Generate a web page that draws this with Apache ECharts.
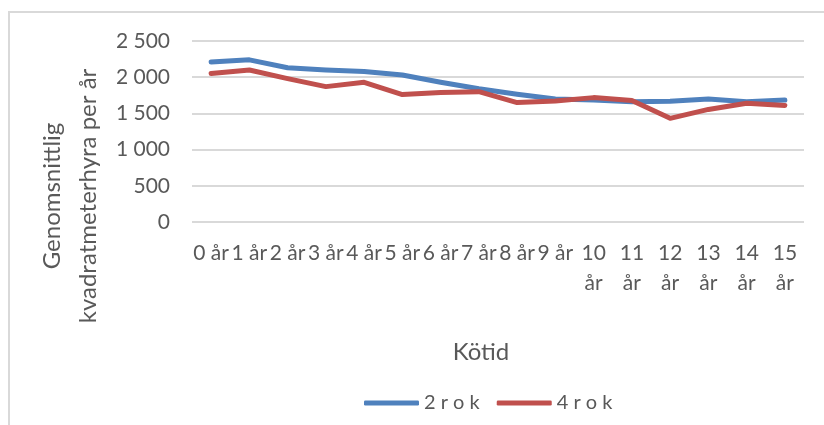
<!DOCTYPE html>
<html>
<head>
<meta charset="utf-8">
<script src="https://cdn.jsdelivr.net/npm/echarts@6/dist/echarts.min.js"></script>
<style>
  html, body { margin: 0; padding: 0; background: #fff; }
  #chart { width: 824px; height: 425px; }
</style>
</head>
<body>
<div id="chart"></div>
<script>
// kötid-kategorier
const categories = ['0 år', '1 år', '2 år', '3 år', '4 år', '5 år', '6 år', '7 år',
  '8 år', '9 år', '10 år', '11 år', '12 år', '13 år', '14 år', '15 år']

// genomsnittlig kvadratmeterhyra per år
const rok2 = [2210, 2240, 2130, 2100, 2080, 2030, 1930, 1840,
  1765, 1700, 1685, 1662, 1667, 1700, 1660, 1685]
const rok4 = [2050, 2100, 1980, 1870, 1930, 1760, 1790, 1800,
  1650, 1672, 1718, 1678, 1432, 1555, 1640, 1610]

const yTicks = [0, 500, 1000, 1500, 2000, 2500]

const textColor = '#595959'
const font = 'Lato'

const chart = echarts.init(document.getElementById('chart'))

const option = {
  animation: false,
  textStyle: { fontFamily: font, color: textColor },
  grid: {
    left: 192,
    right: 20,
    top: 41,
    bottom: 203
  },
  graphic: [
    {
      type: 'rect',
      shape: { x: 9, y: 12, width: 840, height: 440 },
      style: { fill: 'none', stroke: '#D9D9D9', lineWidth: 2 },
      silent: true
    },
    {
      type: 'text',
      x: 70,
      y: 196,
      rotation: Math.PI / 2,
      style: {
        text: 'Genomsnittlig\nkvadratmeterhyra per år',
        fill: textColor,
        fontSize: 24,
        fontFamily: font,
        align: 'center',
        verticalAlign: 'middle',
        lineHeight: 36
      }
    },
    {
      type: 'text',
      x: 481,
      y: 352,
      style: {
        text: 'Kötid',
        fill: textColor,
        fontSize: 24,
        fontFamily: font,
        align: 'center',
        verticalAlign: 'middle'
      }
    }
  ],
  legend: {
    left: 359,
    top: 388,
    icon: 'roundRect',
    itemWidth: 55,
    itemHeight: 5,
    itemGap: 17,
    textStyle: { fontSize: 20, color: textColor, fontFamily: font },
    data: ['2 r o k', '4 r o k']
  },
  xAxis: {
    type: 'category',
    boundaryGap: true,
    data: categories,
    axisLine: { show: false },
    axisTick: { show: false },
    axisLabel: {
      interval: 0,
      margin: 16,
      fontSize: 21,
      lineHeight: 30,
      color: textColor,
      formatter: v => v.length > 4 ? v.replace(' ', '\n') : v
    }
  },
  yAxis: {
    type: 'value',
    min: yTicks[0],
    max: yTicks[yTicks.length - 1],
    interval: 500,
    axisLine: { show: false },
    axisTick: { show: false },
    splitLine: { lineStyle: { color: '#D9D9D9', width: 2 } },
    axisLabel: {
      margin: 22,
      fontSize: 21,
      color: textColor,
      formatter: v => String(v).replace(/\B(?=(\d{3})+(?!\d))/g, ' ')
    }
  },
  series: [
    {
      name: '2 r o k',
      type: 'line',
      data: rok2,
      symbol: 'none',
      color: '#4F81BD',
      lineStyle: { width: 5, cap: 'round', join: 'round' }
    },
    {
      name: '4 r o k',
      type: 'line',
      data: rok4,
      symbol: 'none',
      color: '#C0504D',
      lineStyle: { width: 5, cap: 'round', join: 'round' }
    }
  ]
}

chart.setOption(option)
</script>
</body>
</html>
